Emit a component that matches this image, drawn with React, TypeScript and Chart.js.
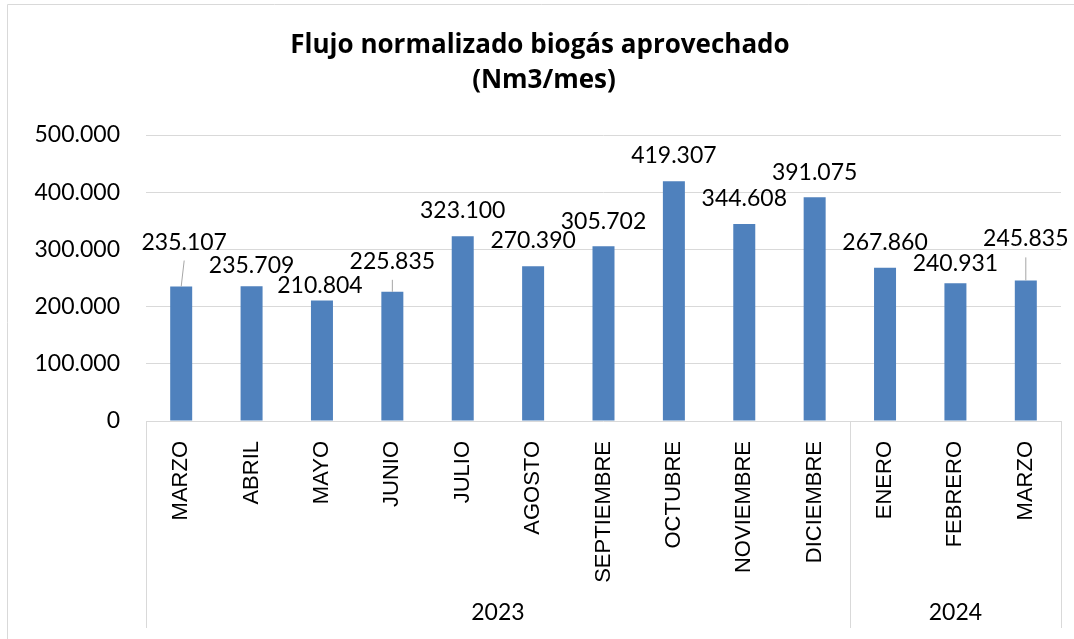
import React, { useEffect, useRef } from 'react';
import { Chart, registerables } from 'chart.js';

Chart.register(...registerables);

// ---------- data ----------
const months = ['MARZO', 'ABRIL', 'MAYO', 'JUNIO', 'JULIO', 'AGOSTO', 'SEPTIEMBRE', 'OCTUBRE', 'NOVIEMBRE', 'DICIEMBRE', 'ENERO', 'FEBRERO', 'MARZO'];
const yearLabels = ['2023', '2024'];
const yearSpans = [10, 3];
const values = [235107, 235709, 210804, 225835, 323100, 270390, 305702, 419307, 344608, 391075, 267860, 240931, 245835];
const titleLines = ['Flujo normalizado biogás aprovechado', '(Nm3/mes)'];
const yMin = 0;
const yMax = 500000;
const yStep = 100000;

// label placement (offset of label centre from bar top, px) and leader lines
const labelDx = [3, 0, -2, 0, 0, 0, 0, 0, 0, 0, 0, 0, 0];
const labelDy = [-45, -21, -15, -31, -26, -26, -25, -26, -26, -25, -26, -20, -42];
const labelLeader = [true, false, false, true, false, false, false, false, false, false, false, false, true];

const fmt = (v: number) => Math.round(v).toString().replace(/\B(?=(\d{3})+(?!\d))/g, '.');

const NUM_FONT = 'Lato, "Open Sans", sans-serif';
const TITLE_FONT = '"Open Sans", Lato, sans-serif';
const GRID = '#d9d9d9';

const decorPlugin = {
  id: 'decor',
  afterDraw(chart: any) {
    const ctx = chart.ctx as CanvasRenderingContext2D;
    const area = chart.chartArea;
    const xs = chart.scales.x;
    ctx.save();
    // outer frame (left and top edges visible)
    ctx.strokeStyle = GRID;
    ctx.lineWidth = 1;
    ctx.beginPath();
    ctx.moveTo(7.5, chart.height + 5);
    ctx.lineTo(7.5, 4.5);
    ctx.lineTo(chart.width + 5, 4.5);
    ctx.stroke();

    // title
    ctx.fillStyle = '#000';
    ctx.textAlign = 'center';
    ctx.textBaseline = 'alphabetic';
    ctx.font = `bold 26px ${TITLE_FONT}`;
    ctx.fillText(titleLines[0], 540, 53);
    ctx.fillText(titleLines[1], 544, 88);

    // category group box
    const boxBottom = 628;
    const bounds: number[] = [area.left];
    let idx = 0;
    for (let g = 0; g < yearSpans.length; g++) {
      idx += yearSpans[g];
      if (idx < months.length) {
        bounds.push((xs.getPixelForValue(idx - 1) + xs.getPixelForValue(idx)) / 2);
      } else {
        bounds.push(area.right);
      }
    }
    ctx.strokeStyle = GRID;
    ctx.beginPath();
    for (const b of bounds) {
      const x = Math.round(b) + 0.5;
      ctx.moveTo(x, area.bottom);
      ctx.lineTo(x, boxBottom);
    }
    ctx.stroke();

    ctx.fillStyle = '#000';
    ctx.font = `23px ${NUM_FONT}`;
    ctx.textAlign = 'center';
    ctx.textBaseline = 'alphabetic';
    for (let g = 0; g < yearLabels.length; g++) {
      ctx.fillText(yearLabels[g], (bounds[g] + bounds[g + 1]) / 2, 620);
    }
    ctx.restore();
  },
  afterDatasetsDraw(chart: any) {
    const ctx = chart.ctx as CanvasRenderingContext2D;
    const meta = chart.getDatasetMeta(0);
    ctx.save();
    ctx.font = `23px ${NUM_FONT}`;
    ctx.textAlign = 'center';
    ctx.textBaseline = 'alphabetic';
    meta.data.forEach((bar: any, i: number) => {
      const cx = bar.x + labelDx[i];
      const cy = bar.y + labelDy[i];
      if (labelLeader[i]) {
        ctx.strokeStyle = '#a6a6a6';
        ctx.lineWidth = 1;
        ctx.beginPath();
        ctx.moveTo(bar.x, bar.y);
        ctx.lineTo(cx, cy + 19);
        ctx.stroke();
      }
      ctx.fillStyle = '#000';
      ctx.fillText(fmt(values[i]), cx, cy + 8);
    });
    ctx.restore();
  },
};

export default function App() {
  const ref = useRef<HTMLCanvasElement | null>(null);
  useEffect(() => {
    if (!ref.current) return;
    const chart = new Chart(ref.current, {
      type: 'bar',
      data: {
        labels: months,
        datasets: [
          {
            data: values,
            backgroundColor: '#4f81bd',
            borderWidth: 0,
            barPercentage: 0.3125,
            categoryPercentage: 1,
          },
        ],
      },
      options: {
        responsive: false,
        animation: false,
        devicePixelRatio: 1,
        layout: { padding: { left: 0, right: 13, top: 135, bottom: 0 } },
        plugins: {
          legend: { display: false },
          title: { display: false },
          tooltip: { enabled: false },
        },
        scales: {
          x: {
            grid: { display: false, drawTicks: false },
            border: { display: false },
            ticks: {
              autoSkip: false,
              minRotation: 90,
              maxRotation: 90,
              padding: 20,
              color: '#000',
              font: { family: '"Liberation Sans", Arial, sans-serif', size: 22 },
            },
            afterFit(scale: any) {
              scale.height = 218;
            },
          },
          y: {
            min: yMin,
            max: yMax,
            grid: { color: GRID, lineWidth: 1, drawTicks: false },
            border: { display: false },
            ticks: {
              stepSize: yStep,
              padding: 26,
              color: '#000',
              font: { family: NUM_FONT, size: 23 },
              callback: (v: any) => fmt(Number(v)),
            },
            afterFit(scale: any) {
              scale.width = 146;
            },
          },
        },
      },
      plugins: [decorPlugin],
    });
    return () => chart.destroy();
  }, []);
  return (
    <div style={{ position: 'absolute', left: 0, top: 0, width: 1074, height: 639, background: '#fff' }}>
      <canvas ref={ref} width={1074} height={639} style={{ display: 'block' }} />
    </div>
  );
}
